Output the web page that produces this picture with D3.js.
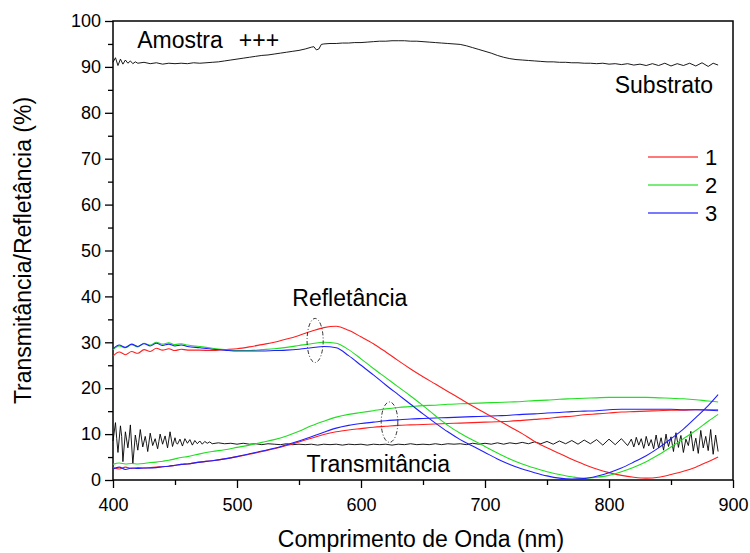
<!DOCTYPE html>
<html>
<head>
<meta charset="utf-8">
<script src="https://cdn.jsdelivr.net/npm/d3@7"></script>
<style>
  body { margin: 0; background: #fff; }
  text { font-family: "Liberation Sans", Arial, sans-serif; fill: #000; }
</style>
</head>
<body>
<div id="chart"></div>
<script>
// wavelength grid shared by the six coloured curves (nm)
var wl = [400,405,410,415,420,425,430,435,440,445,450,455,460,470,480,490,500,510,520,530,540,550,560,570,580,590,600,610,620,630,640,650,660,670,680,690,700,710,720,730,740,750,760,770,780,790,800,810,820,830,840,850,860,870,880,888];

// reflectance, samples 1..3
var r1 = [27.0,27.9,27.3,28.0,27.6,28.4,28.0,28.7,28.3,28.6,28.2,28.5,28.3,28.3,28.2,28.4,28.6,29.0,29.5,30.0,30.7,31.5,32.4,33.2,33.5,32.6,31.2,29.7,27.9,26.0,24.2,22.5,20.9,19.3,17.7,16.1,14.6,13.1,11.6,10.1,8.4,7.0,5.8,4.5,3.4,2.4,1.6,1.0,0.6,0.4,0.6,1.2,1.9,2.8,4.0,5.0];
var r2 = [28.4,29.2,28.8,29.5,29.0,29.8,29.4,30.0,29.6,29.9,29.5,29.7,29.4,29.1,28.7,28.4,28.2,28.2,28.4,28.6,28.9,29.3,29.7,30.0,29.8,28.4,26.4,24.3,22.3,20.3,18.3,16.2,14.0,11.9,10.2,8.7,7.3,5.9,4.6,3.5,2.6,1.8,1.2,0.7,0.4,0.6,1.0,1.8,2.8,4.0,5.5,7.2,9.0,10.8,12.8,14.3];
var r3 = [28.6,29.4,28.9,29.6,29.1,29.7,29.2,29.8,29.3,29.6,29.2,29.4,29.1,28.8,28.5,28.3,28.1,28.1,28.1,28.2,28.3,28.5,28.8,29.1,28.8,27.1,25.0,22.9,20.7,18.6,16.5,14.4,12.4,10.5,8.8,7.4,6.0,4.6,3.4,2.4,1.6,0.9,0.4,0.2,0.3,0.8,1.6,2.6,3.9,5.3,7.0,9.0,11.1,13.6,16.2,18.6];

// transmittance, samples 1..3
var t1 = [2.7,2.4,2.8,2.5,2.7,2.6,2.7,2.8,2.9,3.0,3.2,3.4,3.5,3.9,4.2,4.6,5.1,5.6,6.2,6.8,7.5,8.3,9.1,9.9,10.5,10.9,11.2,11.5,11.7,11.9,12.0,12.1,12.2,12.3,12.4,12.5,12.6,12.7,12.8,13.0,13.2,13.4,13.7,13.9,14.2,14.4,14.6,14.8,14.9,15.0,15.1,15.2,15.2,15.3,15.3,15.3];
var t2 = [3.4,3.7,3.5,3.6,3.5,3.6,3.8,3.9,4.1,4.3,4.6,4.9,5.1,5.7,6.2,6.6,7.1,7.6,8.2,8.8,9.6,10.6,11.8,12.8,13.7,14.3,14.7,15.1,15.5,15.8,16.0,16.2,16.3,16.5,16.6,16.7,16.8,16.9,17.0,17.1,17.3,17.4,17.6,17.7,17.8,17.9,18.0,18.0,18.0,18.0,17.9,17.8,17.7,17.5,17.2,17.0];
var t3 = [2.4,2.8,2.3,2.6,2.5,2.6,2.6,2.7,2.9,3.0,3.2,3.4,3.5,3.9,4.2,4.6,5.1,5.7,6.3,6.9,7.7,8.5,9.4,10.4,11.3,11.9,12.3,12.6,12.9,13.1,13.3,13.4,13.5,13.6,13.7,13.8,13.9,14.0,14.1,14.3,14.4,14.6,14.7,14.9,15.0,15.1,15.3,15.4,15.4,15.4,15.4,15.4,15.3,15.3,15.2,15.1];

// bare substrate: [nm, %]
var substrato = [[400,91.0],[402,92.0],[404,90.3],[406,91.7],[408,90.6],[410,91.5],[412,90.8],[414,91.3],[416,90.7],[418,91.1],[420,90.8],[425,91.0],[430,90.7],[435,90.9],[440,90.6],[445,90.8],[450,90.7],[455,90.8],[460,90.7],[465,90.9],[470,90.8],[475,90.9],[480,91.0],[485,91.1],[490,91.3],[495,91.5],[500,91.7],[505,91.9],[510,92.1],[515,92.3],[520,92.5],[525,92.6],[530,92.8],[535,93.0],[540,93.2],[545,93.4],[550,93.6],[555,93.9],[560,94.3],[562,94.4],[564,93.7],[566,93.9],[568,94.9],[570,95.0],[575,95.1],[580,95.1],[585,95.2],[590,95.2],[595,95.3],[600,95.3],[605,95.4],[610,95.5],[615,95.6],[620,95.6],[625,95.7],[630,95.7],[635,95.7],[640,95.6],[645,95.6],[650,95.5],[655,95.4],[660,95.3],[665,95.2],[670,95.1],[675,95.0],[680,94.9],[685,94.6],[690,94.2],[695,93.8],[700,93.4],[705,93.0],[710,92.5],[715,92.1],[720,91.8],[725,91.6],[730,91.5],[735,91.4],[740,91.3],[745,91.2],[750,91.1],[755,91.1],[760,91.0],[765,91.0],[770,90.9],[775,90.9],[780,90.8],[785,90.8],[790,90.7],[795,90.8],[800,90.6],[805,90.7],[810,90.5],[815,90.7],[820,90.4],[825,90.6],[830,90.3],[835,90.7],[840,90.3],[845,90.8],[850,90.2],[855,90.7],[860,90.3],[865,90.8],[870,90.2],[875,90.9],[880,90.1],[884,90.8],[888,90.4]];

// substrate transmittance (black, bottom): [nm, %]
var transSub = [[400,8.5],[402,12.5],[403,9.0],[404,6.0],[406,11.8],[407,9.5],[408,4.0],[410,10.5],[412,7.0],[413,9.1],[414,12.0],[416,3.5],[418,9.8],[419,8.2],[420,6.5],[422,11.0],[424,7.2],[426,9.5],[427,8.0],[428,6.2],[430,10.2],[432,7.5],[434,9.0],[436,6.8],[437,8.4],[438,10.0],[440,7.8],[442,9.6],[444,7.0],[446,10.5],[448,7.3],[450,9.2],[451,8.1],[452,7.8],[454,8.9],[456,7.4],[458,9.0],[460,8.0],[462,8.8],[464,7.6],[466,8.6],[468,7.9],[470,8.5],[472,7.8],[474,8.4],[476,8.0],[478,8.3],[480,7.9],
  [485,8.1],[490,7.9],[495,8.0],[500,7.8],[505,8.0],[510,7.8],[515,7.9],[520,7.7],[525,7.9],[530,7.8],[535,7.7],[540,7.9],[545,7.7],[550,7.8],[555,7.7],[560,7.8],[565,7.6],[570,7.8],[575,7.7],[580,7.8],[585,7.6],[590,7.8],[595,7.7],[600,7.8],[605,7.6],[610,7.8],[615,7.7],[620,7.8],[625,7.6],[630,7.8],[635,7.7],[640,7.9],[645,7.7],[650,7.8],[655,7.7],[660,7.9],[665,7.7],[670,7.9],[675,7.8],[680,7.9],[685,7.7],[690,8.0],[695,7.8],[700,8.0],[705,7.8],[710,8.1],[715,7.8],[720,8.1],[725,7.9],[730,8.2],[735,7.9],[740,8.3],[745,7.9],[750,8.4],[755,7.8],[760,8.5],[765,7.9],[770,8.6],[775,7.8],[780,8.7],[785,7.9],[790,8.8],[795,7.6],[800,8.9],[805,7.7],[810,9.0],[815,7.5],
  [818,8.9],[820,7.2],[821,8.1],[822,9.3],[824,7.6],[826,9.0],[828,6.9],[829,8.0],[830,9.5],[832,7.4],[834,8.8],[836,6.8],[838,9.8],[839,8.3],[840,7.0],[842,9.2],[844,6.5],[846,10.0],[847,8.4],[848,7.3],[850,9.4],[852,6.2],[854,10.3],[856,7.1],[857,8.6],[858,9.7],[860,6.0],[862,8.9],[864,7.5],[866,10.6],[868,6.3],[869,7.9],[870,9.1],[872,5.8],[874,10.8],[876,7.0],[878,9.5],[880,6.4],[882,11.0],[883,8.2],[884,5.6],[886,9.8],[888,6.2]];

var sampleNames = ['1', '2', '3'];
var xTicks = [400, 500, 600, 700, 800, 900];
var yTicks = [0, 10, 20, 30, 40, 50, 60, 70, 80, 90, 100];

// dashed ellipses marking the curves: centre in nm / %, half-sizes in nm / %
var marks = [
  { x: 563, y: 30.4, rx: 6.5, ry: 4.8 },
  { x: 623, y: 12.6, rx: 6.7, ry: 4.4 }
];

var colors = ['#ff1f1f', '#1fdf1f', '#1f1fff'];

var svgWidth = 750,
    svgHeight = 553,
    margin = { top: 21, right: 17, bottom: 73, left: 113 },
    width = svgWidth - margin.left - margin.right,
    height = svgHeight - margin.top - margin.bottom;

var svg = d3.select('#chart').append('svg').attr('width', svgWidth).attr('height', svgHeight);
var g = svg.append('g').attr('transform', 'translate(' + margin.left + ',' + margin.top + ')');

var x = d3.scaleLinear().domain([400, 900]).range([0, width]);
var y = d3.scaleLinear().domain([0, 100]).range([height, 0]);

// axes
var xAxis = g.append('g').attr('transform', 'translate(0,' + height + ')')
  .call(d3.axisBottom(x).tickValues(xTicks).tickSize(8).tickFormat(d3.format('d')));
g.append('g').attr('transform', 'translate(0,' + height + ')')
  .call(d3.axisBottom(x).tickValues(d3.range(450, 900, 100)).tickSize(5).tickFormat(''));
var yAxis = g.append('g')
  .call(d3.axisLeft(y).tickValues(yTicks).tickSize(8));
g.append('g')
  .call(d3.axisLeft(y).tickValues(d3.range(5, 100, 10)).tickSize(5).tickFormat(''));

g.selectAll('.domain').remove();
g.selectAll('.tick line').attr('stroke', '#000').attr('stroke-width', 1.3);
xAxis.selectAll('.tick text').attr('y', 14).attr('dy', '0.95em').style('font-size', '18px');
yAxis.selectAll('.tick text').attr('x', -12).style('font-size', '18px');

// frame
g.append('rect').attr('width', width).attr('height', height)
  .attr('fill', 'none').attr('stroke', '#000').attr('stroke-width', 1.5);

var line = d3.line()
  .x(function(d) { return x(d[0]); })
  .y(function(d) { return y(d[1]); });

var smooth = d3.line()
  .curve(d3.curveMonotoneX)
  .x(function(d) { return x(d[0]); })
  .y(function(d) { return y(d[1]); });

function pairs(vals) {
  return wl.map(function(w, i) { return [w, vals[i]]; });
}

// substrate curves
[substrato, transSub].forEach(function(s) {
  g.append('path').datum(s)
    .attr('fill', 'none').attr('stroke', '#000').attr('stroke-width', 0.9)
    .attr('d', line);
});

// samples
[t1, t2, t3, r1, r2, r3].forEach(function(s, i) {
  g.append('path').datum(pairs(s))
    .attr('fill', 'none').attr('stroke', colors[i % 3]).attr('stroke-width', 1.1)
    .attr('stroke-linejoin', 'round')
    .attr('d', smooth);
});

// dashed ellipses
g.selectAll('.mark').data(marks).enter().append('ellipse')
  .attr('cx', function(d) { return x(d.x); })
  .attr('cy', function(d) { return y(d.y); })
  .attr('rx', function(d) { return x(d.x + d.rx) - x(d.x); })
  .attr('ry', function(d) { return y(0) - y(d.ry); })
  .attr('fill', 'none').attr('stroke', '#333').attr('stroke-width', 1)
  .attr('stroke-dasharray', '4,2,1,2');

// labels inside the plot
g.append('text').attr('x', x(419.5)).attr('y', y(94.1)).style('font-size', '23px')
  .text('Amostra').append('tspan').attr('dx', 16).text('+++');
g.append('text').attr('x', x(884)).attr('y', y(84.3)).style('font-size', '23px')
  .attr('text-anchor', 'end').text('Substrato');
g.append('text').attr('x', x(591)).attr('y', y(37.8)).style('font-size', '23px')
  .attr('text-anchor', 'middle').text('Refletância');
g.append('text').attr('x', x(614)).attr('y', y(1.7)).style('font-size', '23px')
  .attr('text-anchor', 'middle').text('Transmitância');

// legend
var legend = g.selectAll('.legend').data(sampleNames).enter().append('g')
  .attr('transform', function(d, i) { return 'translate(' + (width - 85) + ',' + (136 + i * 28) + ')'; });
legend.append('line').attr('x1', 0).attr('x2', 50).attr('y1', 0).attr('y2', 0)
  .attr('stroke', function(d, i) { return colors[i]; }).attr('stroke-opacity', 0.6).attr('stroke-width', 2);
legend.append('text').attr('x', 57).attr('y', 8).style('font-size', '22px').text(function(d) { return d; });

// axis titles
g.append('text')
  .attr('transform', 'translate(' + (width / 2 - 2) + ',' + (height + 67) + ')')
  .attr('text-anchor', 'middle').style('font-size', '23px')
  .text('Comprimento de Onda (nm)');
g.append('text')
  .attr('transform', 'rotate(-90)')
  .attr('x', -(height / 2)).attr('y', -margin.left + 31)
  .attr('text-anchor', 'middle').style('font-size', '23px')
  .text('Transmitância/Refletância (%)');
</script>
</body>
</html>
